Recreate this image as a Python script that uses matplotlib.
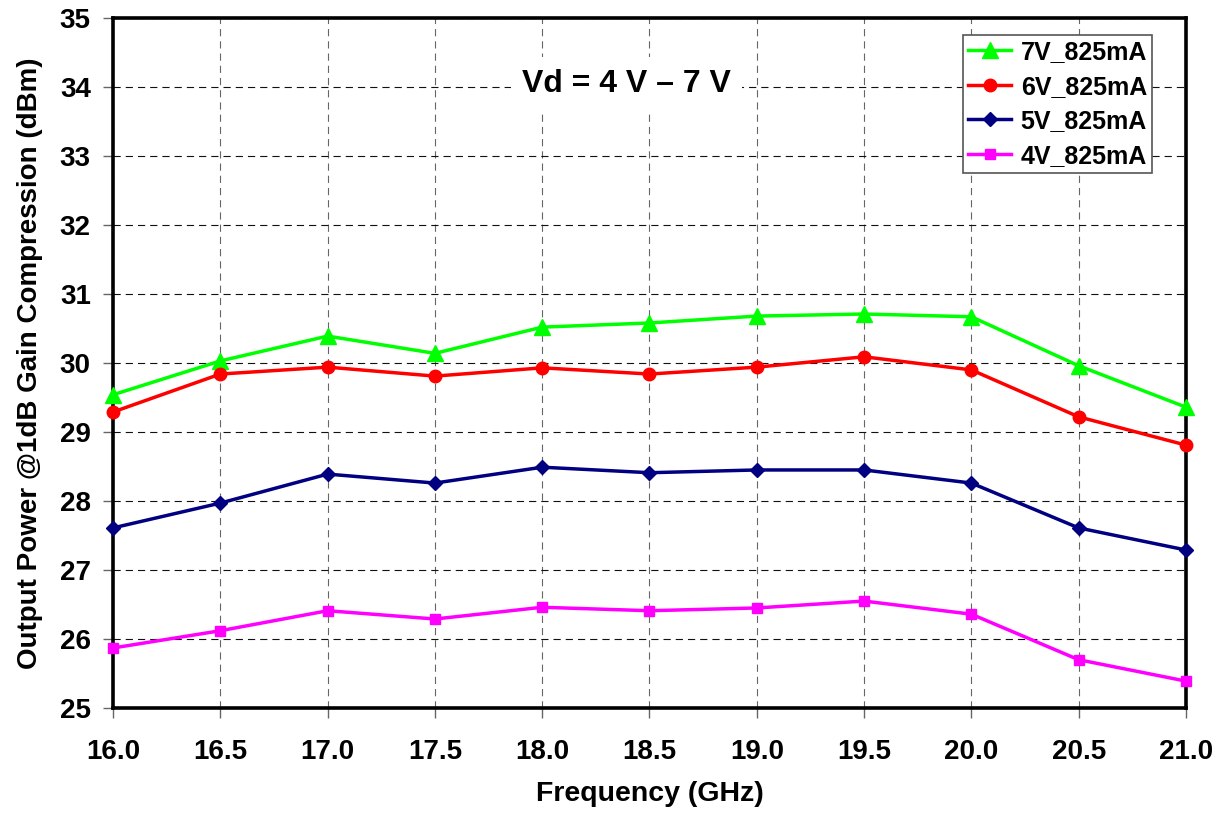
import matplotlib
matplotlib.use("Agg")
import matplotlib.pyplot as plt

freq = [16.0, 16.5, 17.0, 17.5, 18.0, 18.5, 19.0, 19.5, 20.0, 20.5, 21.0]
p7v = [29.54, 30.03, 30.39, 30.14, 30.52, 30.58, 30.68, 30.71, 30.67, 29.96, 29.36]
p6v = [29.29, 29.84, 29.94, 29.81, 29.93, 29.84, 29.94, 30.09, 29.90, 29.22, 28.81]
p5v = [27.61, 27.97, 28.39, 28.26, 28.49, 28.41, 28.45, 28.45, 28.26, 27.61, 27.29]
p4v = [25.87, 26.12, 26.41, 26.29, 26.46, 26.41, 26.45, 26.55, 26.36, 25.70, 25.39]
labels = ["7V_825mA", "6V_825mA", "5V_825mA", "4V_825mA"]
xticks = [16.0, 16.5, 17.0, 17.5, 18.0, 18.5, 19.0, 19.5, 20.0, 20.5, 21.0]
yticks = list(range(25, 36))

plt.rcParams['font.family'] = ['Liberation Sans', 'DejaVu Sans']
plt.rcParams['font.weight'] = 'bold'

fig = plt.figure(figsize=(12.22, 8.14), dpi=100)
ax = fig.add_axes([0.0925, 0.1302, 0.878, 0.8477])

series = [
    (p7v, '#00ff00', '^', 11),
    (p6v, '#ff0000', 'o', 9),
    (p5v, '#000080', 'D', 7),
    (p4v, '#ff00ff', 's', 7),
]
for (vals, col, mk, ms), lab in zip(series, labels):
    ax.plot(freq, vals, color=col, marker=mk, markersize=ms, linewidth=2.5,
            label=lab, clip_on=False, zorder=3)

ax.set_xlim(16.0, 21.0)
ax.set_ylim(25, 35)
ax.set_xticks(xticks)
ax.set_xticklabels([f"{v:.1f}" for v in xticks])
ax.set_yticks(yticks)
ax.yaxis.grid(True, color='#111111', linestyle=(0, (6.5, 4.5)), linewidth=0.8)
ax.xaxis.grid(True, color='#666666', linestyle=(0, (6.5, 4.5)), linewidth=0.8)
ax.set_axisbelow(True)
for s in ax.spines.values():
    s.set_linewidth(2.6)
ax.tick_params(axis='both', direction='out', length=7, width=1, color='#666666',
               labelsize=20)
ax.tick_params(axis='x', pad=15)
ax.tick_params(axis='y', pad=9)
for t in ax.get_xticklabels() + ax.get_yticklabels():
    t.set_fontweight('bold')

ax.set_xlabel("Frequency (GHz)", fontsize=20.5, fontweight='bold', labelpad=12)
ax.set_ylabel("Output Power @1dB Gain Compression (dBm)", fontsize=20,
              fontweight='bold', labelpad=12)

ax.text(0.4787, 0.905, "Vd = 4 V \u2013 7 V", transform=ax.transAxes, ha='center',
        va='center', fontsize=23, fontweight='bold',
        bbox=dict(facecolor='white', edgecolor='none', pad=8), zorder=4)

leg = ax.legend(loc='upper right', bbox_to_anchor=(0.9685, 0.975),
                prop={'weight': 'bold', 'size': 18}, fancybox=False,
                edgecolor='#555555', framealpha=1, borderpad=0.2,
                handlelength=1.7, handletextpad=0.4, labelspacing=0.42,
                borderaxespad=0.0)
leg.get_frame().set_linewidth(1.2)

fig.savefig("out.png", dpi=100)
